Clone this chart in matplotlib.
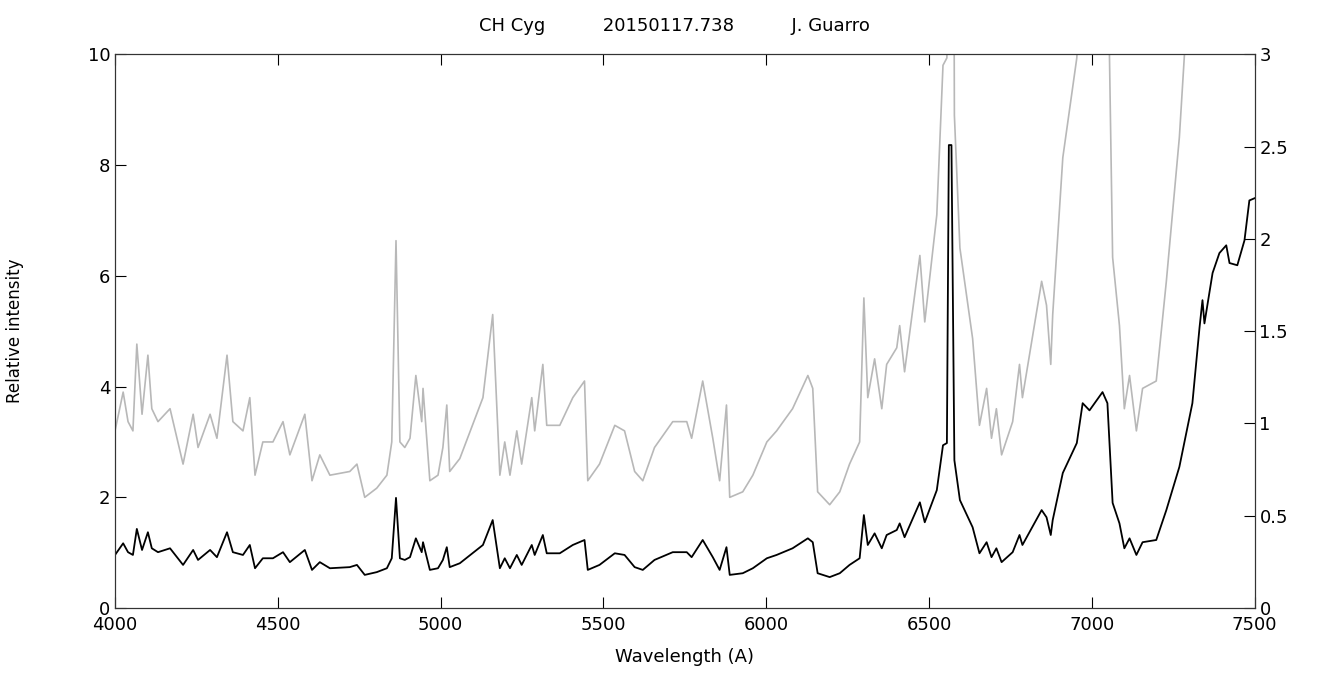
import matplotlib
matplotlib.use('Agg')
import matplotlib.pyplot as plt

# Spectrum (wavelength in A, relative intensity)
wavelength = [4000, 4025, 4040, 4055, 4067, 4083, 4101, 4113, 4132, 4169, 4209, 4240, 4255,
              4292, 4313, 4344, 4362, 4393, 4414, 4430, 4454, 4485, 4516, 4537, 4583, 4605,
              4629, 4660, 4721, 4743, 4767, 4804, 4835, 4850, 4863, 4875, 4890, 4906, 4924,
              4942, 4946, 4967, 4992, 5007, 5019, 5028, 5059, 5130, 5160, 5182, 5197, 5213,
              5234, 5249, 5280, 5289, 5314, 5326, 5366, 5406, 5442, 5452, 5488, 5535, 5565,
              5596, 5621, 5657, 5713, 5756, 5771, 5805, 5836, 5857, 5878, 5888, 5928, 5959,
              6002, 6032, 6081, 6128, 6143, 6158, 6195, 6226, 6256, 6287, 6300, 6312, 6333,
              6355, 6370, 6401, 6410, 6425, 6472, 6487, 6524, 6543, 6555, 6561, 6569, 6578,
              6595, 6634, 6655, 6677, 6692, 6707, 6723, 6757, 6778, 6787, 6846, 6861, 6874,
              6880, 6911, 6954, 6972, 6993, 7033, 7048, 7064, 7085, 7100, 7116, 7137, 7156,
              7198, 7229, 7269, 7309, 7331, 7340, 7346, 7371, 7392, 7413, 7423, 7447, 7469,
              7484, 7500]
intensity = [0.96, 1.17, 1.01, 0.96, 1.43, 1.05, 1.37, 1.08, 1.01, 1.08, 0.78, 1.05, 0.87,
             1.05, 0.92, 1.37, 1.01, 0.96, 1.14, 0.72, 0.90, 0.90, 1.01, 0.83, 1.05, 0.69,
             0.83, 0.72, 0.74, 0.78, 0.60, 0.65, 0.72, 0.90, 1.99, 0.90, 0.87, 0.92, 1.26,
             1.01, 1.19, 0.69, 0.72, 0.87, 1.10, 0.74, 0.81, 1.14, 1.59, 0.72, 0.90, 0.72,
             0.96, 0.78, 1.14, 0.96, 1.32, 0.99, 0.99, 1.14, 1.23, 0.69, 0.78, 0.99, 0.96,
             0.74, 0.69, 0.87, 1.01, 1.01, 0.92, 1.23, 0.92, 0.69, 1.10, 0.60, 0.63, 0.72,
             0.90, 0.96, 1.08, 1.26, 1.19, 0.63, 0.56, 0.63, 0.78, 0.90, 1.68, 1.14, 1.35,
             1.08, 1.32, 1.41, 1.53, 1.28, 1.91, 1.55, 2.13, 2.94, 2.98, 8.36, 8.36, 2.67,
             1.95, 1.46, 0.99, 1.19, 0.92, 1.08, 0.83, 1.01, 1.32, 1.14, 1.77, 1.64, 1.32,
             1.59, 2.44, 2.98, 3.70, 3.57, 3.90, 3.70, 1.90, 1.53, 1.08, 1.26, 0.96, 1.19,
             1.23, 1.77, 2.55, 3.70, 5.07, 5.56, 5.14, 6.05, 6.41, 6.55, 6.23, 6.19, 6.64,
             7.36, 7.40]

fig = plt.figure(figsize=(13.22, 6.95), dpi=100)
ax = fig.add_axes([0.087, 0.125, 0.862, 0.797])
ax2 = ax.twinx()

ax2.plot(wavelength, intensity, color='#b8b8b8', lw=1.2)
ax.plot(wavelength, intensity, color='black', lw=1.3)
ax.set_zorder(ax2.get_zorder() + 1)
ax.patch.set_visible(False)

ax.set_xlim(4000, 7500)
ax.set_ylim(0, 10)
ax2.set_ylim(0, 3)
ax.set_xticks(range(4000, 7501, 500))
ax.set_yticks(range(0, 11, 2))
ax2.set_yticks([0, 0.5, 1, 1.5, 2, 2.5, 3])
ax2.set_yticklabels(['0', '0.5', '1', '1.5', '2', '2.5', '3'])

for a in (ax, ax2):
    a.tick_params(direction='in', length=8, labelsize=13, top=True)
    for s in a.spines.values():
        s.set_color('#333333')
ax.tick_params(axis='x', pad=6)

ax.set_xlabel('Wavelength (A)', fontsize=13, labelpad=10)
ax.set_ylabel('Relative intensity', fontsize=12, labelpad=46)
fig.text(0.51, 0.955, 'CH Cyg          20150117.738          J. Guarro',
         ha='center', fontsize=13)

fig.savefig('out.png', dpi=100)
